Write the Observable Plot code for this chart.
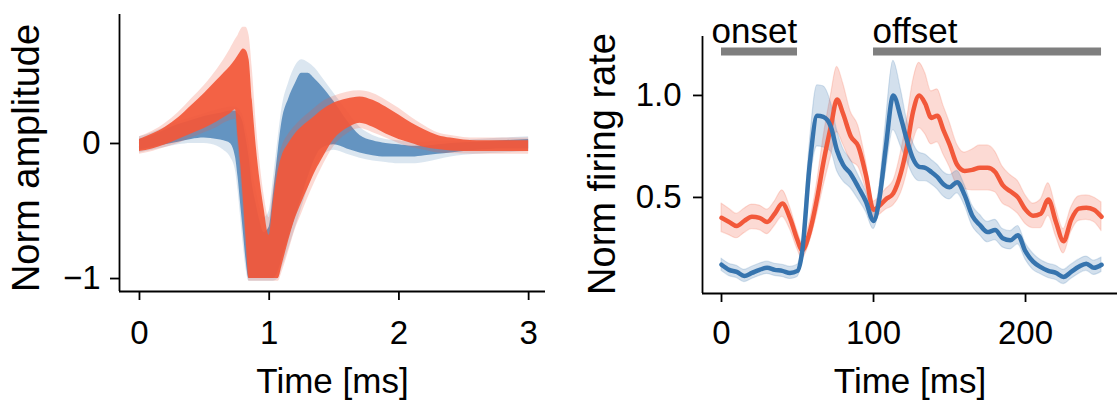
<!DOCTYPE html>
<html><head><meta charset="utf-8">
<script src="https://cdn.jsdelivr.net/npm/d3@7"></script>
<script src="https://cdn.jsdelivr.net/npm/@observablehq/plot@0.6"></script>
<style>
html,body{margin:0;padding:0;background:#fff;}
#wrap{display:flex;width:1117px;height:401px;overflow:hidden;}
#wrap svg{display:block;flex:none;}
</style></head><body><div id="wrap"></div>
<script>
// ---------- Left panel: waveforms (envelopes) ----------
const wT = [0,0.1,0.2,0.3,0.4,0.5,0.6,0.65,0.7,0.74,0.76,0.78,0.8,0.82,0.845,0.87,0.9,0.93,0.96,1.0,1.03,1.07,1.1,1.15,1.2,1.25,1.3,1.35,1.4,1.5,1.6,1.7,1.8,1.9,2.0,2.1,2.2,2.3,2.4,2.6,2.8,3.0];
const orangeCoreLo  = [-0.06,-0.04,-0.01,0.03,0.07,0.11,0.16,0.19,0.22,0.25,0.05,-0.15,-0.40,-0.68,-1.0,-1.0,-1.0,-1.0,-1.0,-1.0,-1.0,-1.0,-0.90,-0.72,-0.56,-0.44,-0.33,-0.22,-0.13,0.03,0.11,0.15,0.12,0.07,0.03,0.0,-0.03,-0.045,-0.055,-0.06,-0.06,-0.06];
const orangeCoreHi  = [0.03,0.07,0.12,0.19,0.28,0.37,0.47,0.52,0.57,0.62,0.65,0.68,0.70,0.69,0.62,0.32,-0.02,-0.28,-0.48,-0.68,-0.45,-0.20,-0.09,0.0,0.07,0.12,0.16,0.20,0.24,0.30,0.33,0.345,0.32,0.27,0.21,0.15,0.10,0.06,0.04,0.02,0.02,0.02];
const orangeOuterLo = [-0.08,-0.06,-0.03,0.0,0.04,0.08,0.12,0.15,0.17,0.18,-0.02,-0.25,-0.50,-0.78,-1.02,-1.02,-1.02,-1.02,-1.02,-1.02,-1.02,-1.02,-0.95,-0.80,-0.64,-0.52,-0.40,-0.29,-0.19,-0.02,0.07,0.11,0.08,0.04,0.0,-0.03,-0.05,-0.07,-0.075,-0.08,-0.08,-0.08];
const orangeOuterHi = [0.05,0.09,0.15,0.23,0.33,0.43,0.55,0.62,0.70,0.77,0.80,0.84,0.86,0.86,0.80,0.55,0.15,-0.15,-0.38,-0.55,-0.35,-0.12,-0.02,0.07,0.13,0.18,0.22,0.26,0.30,0.35,0.38,0.39,0.37,0.32,0.26,0.19,0.13,0.08,0.06,0.04,0.04,0.04];
const blueCoreLo  = [-0.05,-0.03,-0.01,0.01,0.03,0.04,0.03,0.02,0.0,-0.1,-0.25,-0.45,-0.65,-0.85,-1.0,-1.0,-1.0,-1.0,-1.0,-1.0,-1.0,-0.95,-0.85,-0.70,-0.55,-0.40,-0.25,-0.12,-0.04,-0.01,-0.04,-0.07,-0.09,-0.10,-0.10,-0.10,-0.09,-0.08,-0.07,-0.05,-0.04,-0.04];
const blueCoreHi  = [0.03,0.06,0.10,0.14,0.17,0.20,0.22,0.23,0.24,0.24,0.22,0.20,0.15,0.05,-0.1,-0.3,-0.45,-0.58,-0.66,-0.62,-0.40,-0.05,0.17,0.33,0.44,0.52,0.52,0.48,0.43,0.31,0.17,0.06,0.02,0.0,-0.01,-0.02,-0.02,-0.01,0.0,0.01,0.02,0.03];
const blueOuterLo = [-0.07,-0.05,-0.03,-0.01,0.0,0.0,-0.02,-0.05,-0.10,-0.2,-0.35,-0.55,-0.75,-0.92,-1.02,-1.02,-1.02,-1.02,-1.02,-1.02,-1.02,-1.0,-0.92,-0.78,-0.63,-0.48,-0.33,-0.20,-0.10,-0.05,-0.08,-0.11,-0.13,-0.14,-0.15,-0.15,-0.14,-0.12,-0.10,-0.08,-0.07,-0.06];
const blueOuterHi = [0.05,0.08,0.12,0.16,0.19,0.22,0.25,0.26,0.27,0.27,0.26,0.24,0.2,0.12,0.0,-0.2,-0.35,-0.48,-0.55,-0.50,-0.28,0.05,0.27,0.45,0.57,0.62,0.60,0.56,0.50,0.37,0.24,0.12,0.06,0.03,0.02,0.01,0.01,0.02,0.02,0.03,0.04,0.05];
const ampXDomain = [-0.154, 3.13];
const ampYDomain = [-1.096, 0.955];
const ampXTicks = [0, 1, 2, 3];
const ampYTicks = [-1, 0];

// ---------- Right panel: firing rate (mean and SEM) ----------
const frT = [0,5,10,15,20,25,30,35,40,45,50,53,58,63,67,72,76,80,85,90,95,100,104,108,113,118,122,126,130,134,138,142,146,150,155,160,165,170,175,180,185,190,195,200,205,210,215,220,225,230,235,240,245,250];
const redMean  = [0.40,0.38,0.36,0.385,0.405,0.40,0.38,0.42,0.47,0.40,0.29,0.24,0.33,0.50,0.67,0.85,0.98,0.91,0.80,0.75,0.61,0.44,0.46,0.49,0.52,0.62,0.75,0.92,1.0,0.96,0.89,0.90,0.83,0.76,0.66,0.63,0.635,0.645,0.645,0.625,0.56,0.53,0.50,0.44,0.41,0.42,0.49,0.38,0.285,0.39,0.445,0.45,0.44,0.405];
const redSem   = [0.07,0.065,0.06,0.06,0.06,0.06,0.06,0.06,0.065,0.055,0.045,0.04,0.05,0.08,0.12,0.15,0.16,0.15,0.12,0.1,0.07,0.04,0.045,0.05,0.06,0.1,0.13,0.15,0.16,0.15,0.13,0.13,0.12,0.11,0.1,0.09,0.1,0.11,0.11,0.1,0.09,0.08,0.08,0.07,0.06,0.07,0.08,0.07,0.06,0.06,0.06,0.06,0.06,0.07];
const blueMean = [0.17,0.145,0.135,0.115,0.13,0.145,0.155,0.145,0.14,0.13,0.14,0.23,0.66,0.90,0.895,0.845,0.73,0.66,0.615,0.55,0.48,0.385,0.50,0.74,1.0,0.89,0.78,0.69,0.65,0.645,0.625,0.60,0.565,0.55,0.575,0.51,0.41,0.365,0.33,0.34,0.30,0.29,0.315,0.235,0.185,0.158,0.14,0.13,0.11,0.135,0.16,0.175,0.155,0.17];
const blueSem  = [0.03,0.03,0.03,0.03,0.03,0.03,0.03,0.03,0.03,0.03,0.03,0.04,0.1,0.15,0.15,0.12,0.1,0.08,0.07,0.06,0.05,0.04,0.06,0.12,0.17,0.14,0.1,0.08,0.07,0.065,0.06,0.06,0.06,0.06,0.055,0.05,0.05,0.05,0.05,0.05,0.045,0.045,0.045,0.04,0.04,0.035,0.035,0.035,0.035,0.035,0.035,0.035,0.035,0.035];
const periodLabel = ["onset", "offset"];
const periodStart = [0, 100];
const periodEnd   = [50, 250];
const periodLevel = [1.216, 1.216];
const frXDomain = [-12.5, 260.5];
const frYDomain = [0.029, 1.289];
const frXTicks = [0, 100, 200];
const frYTicks = [0.5, 1.0];

// ---------- styling ----------
const FONT = "'Liberation Sans', Arial, Helvetica, sans-serif";
const RED = "#f2583a";
const BLUE = "#3674ae";
const AXW = 1.8;
const fmtInt = d => d < 0 ? "\u2212" + Math.abs(d) : String(d);
const fmt1 = d => d.toFixed(1);

const wave = wT.map((t, i) => ({t,
  oCL: orangeCoreLo[i], oCH: orangeCoreHi[i], oOL: orangeOuterLo[i], oOH: orangeOuterHi[i],
  bCL: blueCoreLo[i], bCH: blueCoreHi[i], bOL: blueOuterLo[i], bOH: blueOuterHi[i]}));

const left = Plot.plot({
  width: 560, height: 401,
  marginLeft: 119, marginRight: 15, marginTop: 14, marginBottom: 110,
  style: {fontFamily: FONT, fontSize: "33px", color: "#000", background: "#fff", overflow: "visible"},
  x: {domain: ampXDomain},
  y: {domain: ampYDomain},
  marks: [
    Plot.areaY(wave, {x: "t", y1: "bOL", y2: "bOH", fill: BLUE, fillOpacity: 0.18, curve: "monotone-x"}),
    Plot.areaY(wave, {x: "t", y1: "bCL", y2: "bCH", fill: BLUE, fillOpacity: 0.72, curve: "monotone-x"}),
    Plot.areaY(wave, {x: "t", y1: "oOL", y2: "oOH", fill: RED, fillOpacity: 0.22, curve: "monotone-x"}),
    Plot.areaY(wave, {x: "t", y1: "oCL", y2: "oCH", fill: RED, fillOpacity: 0.93, curve: "monotone-x"}),
    Plot.ruleX([ampXDomain[0]], {stroke: "#000", strokeWidth: AXW}),
    Plot.ruleY([ampYDomain[0]], {stroke: "#000", strokeWidth: AXW}),
    Plot.axisX({ticks: ampXTicks, tickSize: 9, tickPadding: 20, tickFormat: fmtInt, strokeWidth: AXW, label: null}),
    Plot.axisY({ticks: ampYTicks, tickSize: 9, tickPadding: 10, tickFormat: fmtInt, strokeWidth: AXW, label: null}),
    Plot.text(["Time [ms]"], {text: d => d, frameAnchor: "bottom", dy: 101, lineAnchor: "bottom", fontSize: 35}),
    Plot.text(["Norm amplitude"], {text: d => d, frameAnchor: "left", textAnchor: "middle", rotate: -90, dx: -81, dy: 5, lineAnchor: "bottom", fontSize: 38})
  ]
});

const fr = frT.map((t, i) => ({t, rm: redMean[i], rl: redMean[i] - redSem[i], rh: redMean[i] + redSem[i],
  bm: blueMean[i], bl: blueMean[i] - blueSem[i], bh: blueMean[i] + blueSem[i]}));
const periods = periodLabel.map((label, i) => ({label, start: periodStart[i], end: periodEnd[i], level: periodLevel[i]}));

const right = Plot.plot({
  width: 557, height: 401,
  marginLeft: 142, marginRight: 0, marginTop: 36, marginBottom: 108,
  style: {fontFamily: FONT, fontSize: "33px", color: "#000", background: "#fff", overflow: "visible"},
  x: {domain: frXDomain},
  y: {domain: frYDomain},
  marks: [
    Plot.areaY(fr, {x: "t", y1: "rl", y2: "rh", fill: RED, fillOpacity: 0.22, stroke: RED, strokeOpacity: 0.18, strokeWidth: 1.2, curve: "monotone-x"}),
    Plot.areaY(fr, {x: "t", y1: "bl", y2: "bh", fill: BLUE, fillOpacity: 0.22, stroke: BLUE, strokeOpacity: 0.18, strokeWidth: 1.2, curve: "monotone-x"}),
    Plot.lineY(fr, {x: "t", y: "rm", stroke: RED, strokeWidth: 4.5, curve: "monotone-x"}),
    Plot.lineY(fr, {x: "t", y: "bm", stroke: BLUE, strokeWidth: 4.5, curve: "monotone-x"}),
    Plot.ruleY(periods, {x1: "start", x2: "end", y: "level", stroke: "#7f7f7f", strokeWidth: 8}),
    Plot.text(periods.filter(d => d.label === "onset"), {x: "start", y: "level", text: "label", textAnchor: "start", lineAnchor: "bottom", dx: -10, dy: -8, fontSize: 35}),
    Plot.text(periods.filter(d => d.label === "offset"), {x: "start", y: "level", text: "label", textAnchor: "start", lineAnchor: "bottom", dx: -1, dy: -8, fontSize: 35}),
    Plot.ruleX([frXDomain[0]], {stroke: "#000", strokeWidth: AXW}),
    Plot.ruleY([frYDomain[0]], {stroke: "#000", strokeWidth: AXW}),
    Plot.axisX({ticks: frXTicks, tickSize: 9, tickPadding: 18, tickFormat: fmtInt, strokeWidth: AXW, label: null}),
    Plot.axisY({ticks: frYTicks, tickSize: 9, tickPadding: 12, tickFormat: fmt1, strokeWidth: AXW, label: null}),
    Plot.text(["Time [ms]"], {text: d => d, frameAnchor: "bottom", dy: 99, lineAnchor: "bottom", fontSize: 35}),
    Plot.text(["Norm firing rate"], {text: d => d, frameAnchor: "left", textAnchor: "middle", rotate: -90, dx: -88, dy: -1, lineAnchor: "bottom", fontSize: 38})
  ]
});

document.getElementById("wrap").append(left, right);
</script>
</body></html>
